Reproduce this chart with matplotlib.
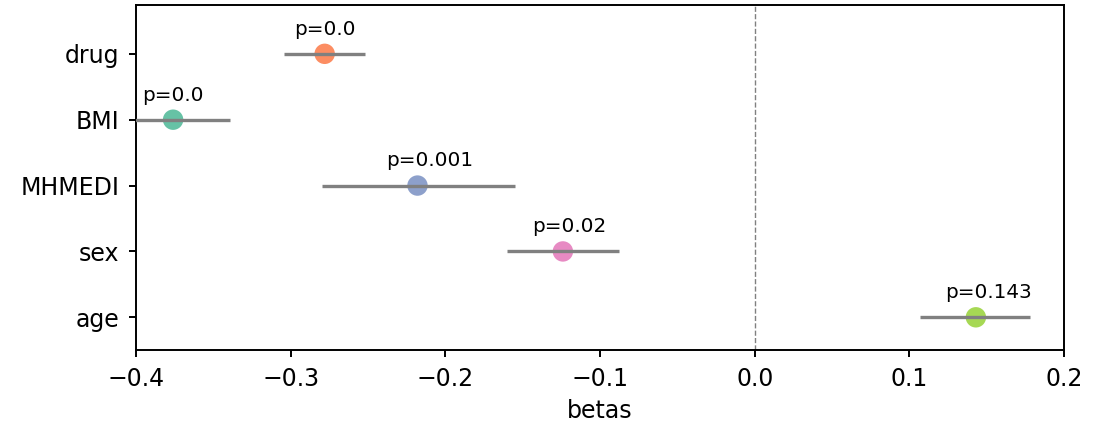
import matplotlib
matplotlib.use("Agg")
import matplotlib.pyplot as plt

variables = ["drug", "BMI", "MHMEDI", "sex", "age"]
betas = [-0.278, -0.376, -0.218, -0.124, 0.143]
ci_low = [-0.304, -0.405, -0.280, -0.160, 0.107]
ci_high = [-0.252, -0.339, -0.155, -0.088, 0.178]
pvals = ["0.0", "0.0", "0.001", "0.02", "0.143"]
colors = ["#fc8d62", "#66c2a5", "#8da0cb", "#e78ac3", "#a6d854"]

fig = plt.figure(figsize=(5.55, 2.115), dpi=200)
ax = fig.add_axes([0.1225, 0.172, 0.8361, 0.816])

ypos = list(range(len(variables)))
ax.scatter(betas, ypos, s=54, c=colors, zorder=2, linewidths=0)
ax.hlines(ypos, ci_low, ci_high, color="gray", lw=1.2, zorder=3)
for b, y, p in zip(betas, ypos, pvals):
    ax.text(b - 0.02, y - 0.29, "p=" + p, ha="left", va="baseline", fontsize=7.2)

ax.axvline(0, color="gray", ls="--", lw=0.5, zorder=1)

ax.set_yticks(ypos)
ax.set_yticklabels(variables)
ax.set_ylim(4.5, -0.74)
ax.set_xlim(-0.4, 0.2)
ax.set_xticks([-0.4, -0.3, -0.2, -0.1, 0.0, 0.1, 0.2])
ax.set_xlabel("betas", fontsize=8.5, labelpad=3)
ax.tick_params(labelsize=8.5, length=2.5, width=0.7, pad=3.5)
for s in ax.spines.values():
    s.set_linewidth(0.7)

fig.savefig("out.png", dpi=200)
